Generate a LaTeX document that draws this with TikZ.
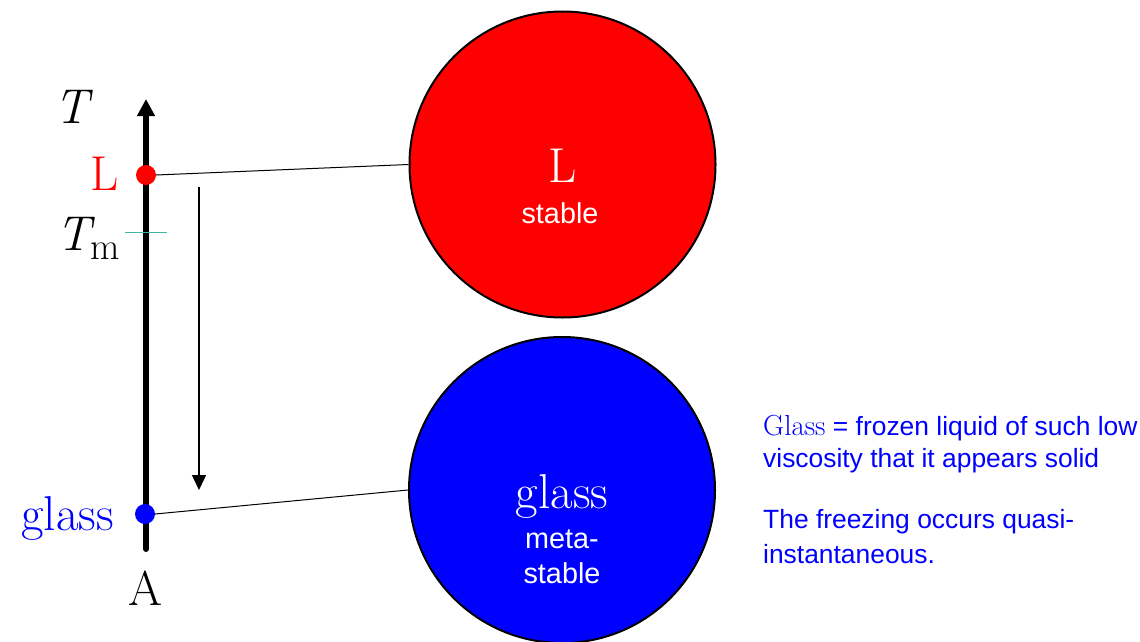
\documentclass[tikz,border=0pt]{standalone}
\usepackage{fontspec}
\newfontfamily\arialfont{Liberation Sans}
\usetikzlibrary{arrows.meta}
\definecolor{TmTeal}{RGB}{64, 181, 163}
\definecolor{PureBlue}{RGB}{0, 0, 255}
\newcommand{\subm}{\raisebox{-9pt}{\fontsize{38}{44}\selectfont m}}

\begin{document}
\begin{tikzpicture}[x=1pt, y=-1pt,
        dot/.style={circle, inner sep=0pt, minimum size=20pt},
        phase/.style={circle, draw=black, line width=2pt, inner sep=0pt, minimum size=306pt},
        serif/.style={font=\fontsize{49}{58}\selectfont, inner sep=0pt, anchor=base},
        sans/.style={font=\arialfont\fontsize{28.8}{35}\selectfont, inner sep=0pt, anchor=base, text=white},
        note/.style={font=\arialfont\fontsize{26.4}{32}\selectfont, inner sep=0pt, anchor=base west, text=PureBlue},
        axis/.style={line width=6pt, line cap=round, -{Triangle[length=17pt, width=17pt]}},
        cool/.style={line width=1.5pt, -{Triangle[length=15pt, width=14pt]}}
    ]
        \useasboundingbox (0,0) rectangle (1140,642);

        % Phase circles
        \node[phase, fill=red] (Lc) at (562.5, 164.5) {};
        \node[phase, fill=PureBlue] (Gc) at (562, 490) {};
        \node[serif, text=white] (Lcl) at (563, 182) {L};
        \node[sans] (Lcs) at (560, 223) {stable};
        \node[serif, text=white] (Gcl) at (562, 508) {glass};
        \node[sans] (Gcs1) at (562, 548) {meta-};
        \node[sans] (Gcs2) at (562, 583) {stable};

        % Temperature axis
        \coordinate (abot) at (146, 549);
        \coordinate (atop) at (146, 99);
        \draw[axis] (abot) -- (atop);
        \coordinate (tml) at (125, 232);
        \coordinate (tmr) at (167, 232);
        \draw[TmTeal, line width=1pt] (tml) -- (tmr);
        \node[dot, fill=red] (Ldot) at (146, 175) {};
        \node[dot, fill=PureBlue] (Gdot) at (145, 514) {};

        % Axis labels
        \node[serif] (Tlab) at (72, 123) {\itshape T};
        \node[serif, text=red] (Llab) at (105, 190) {L};
        \node[serif, anchor=base west] (Tmlab) at (56, 250) {{\itshape T}\subm};
        \node[serif, text=PureBlue] (Glab) at (67.5, 530) {glass};
        \node[serif] (Alab) at (145, 605) {A};

        % Connections
        \draw[line width=1pt] (Ldot.east) -- (Lc.west);
        \draw[line width=1pt] (Gdot.east) -- (Gc.west);
        \coordinate (cstart) at (199, 187);
        \coordinate (cend) at (199, 490);
        \draw[cool] (cstart) -- (cend);

        % Notes
        \node[note] (n1) at (763, 435) {{\rmfamily\fontsize{29}{32}\selectfont Glass} = frozen liquid of such low};
        \node[note] (n2) at (763, 467) {viscosity that it appears solid};
        \node[note] (n3) at (763, 528) {The freezing occurs quasi-};
        \node[note] (n4) at (763, 563) {instantaneous.};
    \end{tikzpicture}
\end{document}
